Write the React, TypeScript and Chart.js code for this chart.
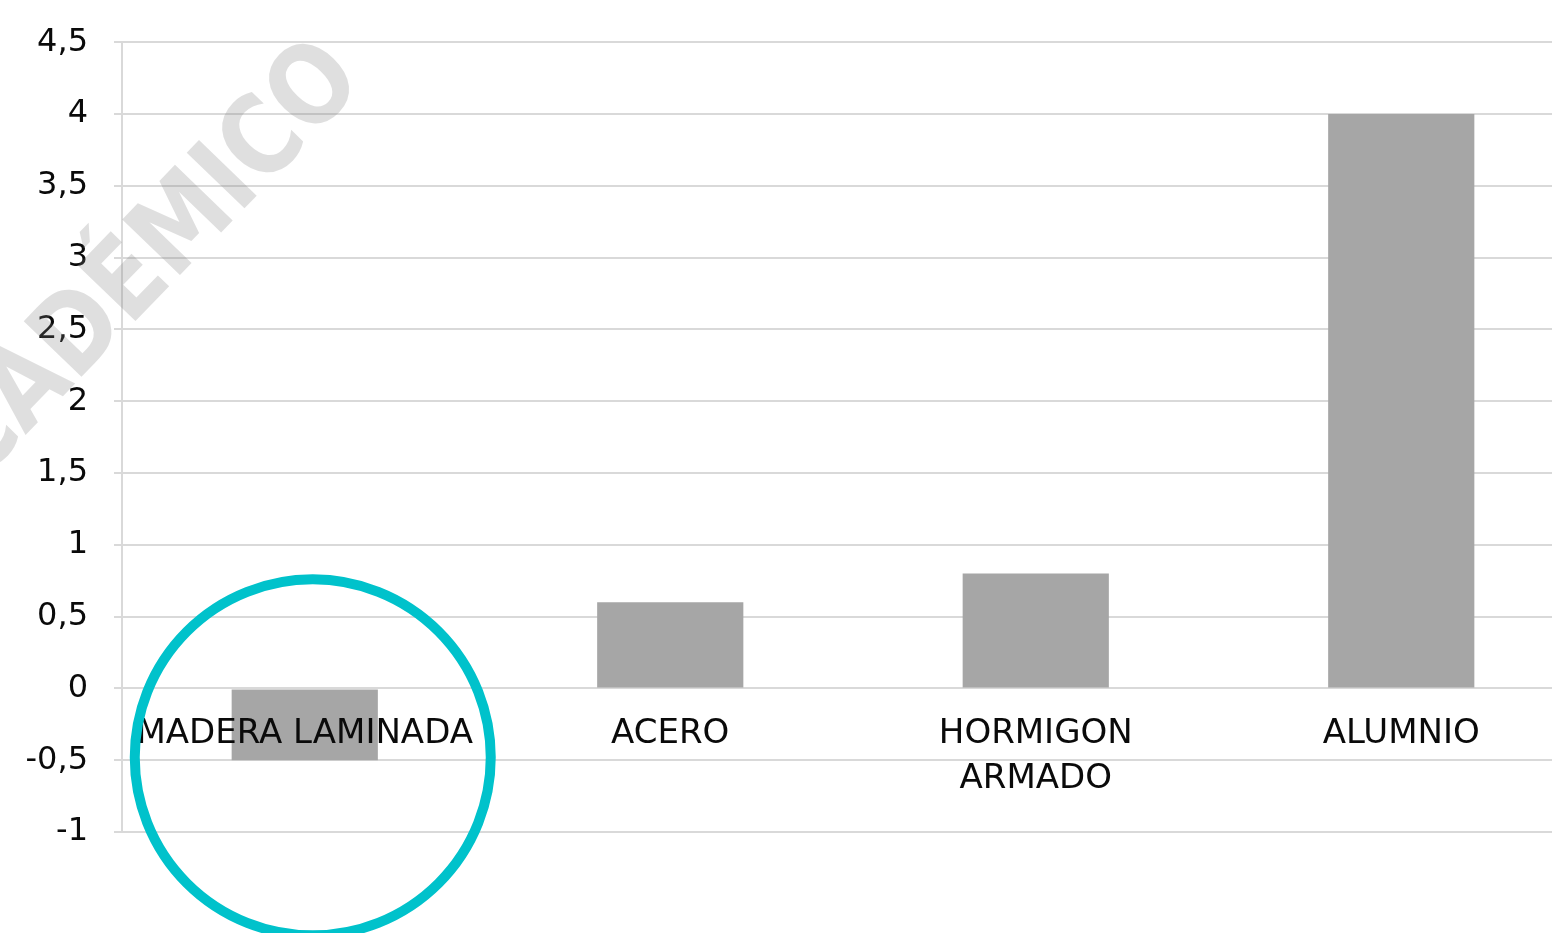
import React, { useEffect, useRef } from "react";
import { Chart, registerables } from "chart.js";

Chart.register(...registerables);

const CATEGORIES: (string | string[])[] = ["MADERA LAMINADA", "ACERO", ["HORMIGON", "ARMADO"], "ALUMNIO"];
const VALUES: number[] = [-0.5, 0.6, 0.8, 4];
const Y_TICK_LABELS: string[] = ["-1", "-0,5", "0", "0,5", "1", "1,5", "2", "2,5", "3", "3,5", "4", "4,5"];
const WATERMARK = "ACADÉMICO";
const HIGHLIGHT_INDEX = 0;

const FONT = "'DejaVu Sans', sans-serif";

const decorPlugin = {
  id: "decor",
  afterDraw(chart: any) {
    const ctx = chart.ctx;
    const xs = chart.scales.x;
    const ys = chart.scales.y;
    // watermark (canvas is shifted up by 3px, compensate)
    ctx.save();
    ctx.translate(345, 66);
    ctx.rotate((-46 * Math.PI) / 180);
    ctx.scale(0.85, 1);
    ctx.font = `bold 110px ${FONT}`;
    ctx.textAlign = "right";
    ctx.textBaseline = "middle";
    ctx.fillStyle = "rgba(128,128,128,0.25)";
    ctx.fillText(WATERMARK, 0, 0);
    ctx.restore();
    // highlight circle
    const cx = xs.getPixelForValue(HIGHLIGHT_INDEX) + 8;
    const cy = ys.getPixelForValue(-0.48);
    ctx.save();
    ctx.beginPath();
    ctx.arc(cx, cy, 178, 0, Math.PI * 2);
    ctx.lineWidth = 10;
    ctx.strokeStyle = "#00c2cb";
    ctx.stroke();
    ctx.restore();
  },
};

export default function App() {
  const ref = useRef<HTMLCanvasElement | null>(null);
  useEffect(() => {
    document.body.style.margin = "0";
    const canvas = ref.current;
    if (!canvas) return;
    const chart = new Chart(canvas, {
      type: "bar",
      data: {
        labels: CATEGORIES,
        datasets: [
          {
            data: VALUES,
            backgroundColor: "#a6a6a6",
            borderWidth: 0,
            barPercentage: 0.4,
            categoryPercentage: 1,
          },
        ],
      },
      options: {
        responsive: false,
        animation: false,
        devicePixelRatio: 1,
        layout: { padding: { top: 38, bottom: 101, left: 0, right: 6 } },
        plugins: { legend: { display: false }, tooltip: { enabled: false } },
        scales: {
          x: {
            position: { y: 0 } as any,
            grid: { display: false, drawTicks: false },
            border: { display: false },
            ticks: {
              z: 1,
              color: "#0a0a0a",
              font: { family: FONT, size: 34, lineHeight: 1.3 },
              padding: 24,
              maxRotation: 0,
              autoSkip: false,
            },
            afterFit: (s: any) => {
              s.height = 0;
            },
          },
          y: {
            min: -1,
            max: 4.5,
            grid: { color: "#d9d9d9", lineWidth: 2, tickLength: 8 },
            border: { color: "#d9d9d9", width: 2 },
            ticks: {
              stepSize: 0.5,
              color: "#0a0a0a",
              font: { family: FONT, size: 32 },
              padding: 26,
              callback: (_v: any, i: number) => Y_TICK_LABELS[i],
            },
            afterFit: (s: any) => {
              s.width = 122;
            },
          },
        },
      },
      plugins: [decorPlugin],
    });
    return () => chart.destroy();
  }, []);
  return (
    <div style={{ position: "absolute", left: 0, top: 0, width: 1552, height: 936, overflow: "hidden", background: "#fff" }}>
      <canvas ref={ref} width={1590} height={936} style={{ width: 1590, height: 936, display: "block", marginTop: -3 }} />
    </div>
  );
}
